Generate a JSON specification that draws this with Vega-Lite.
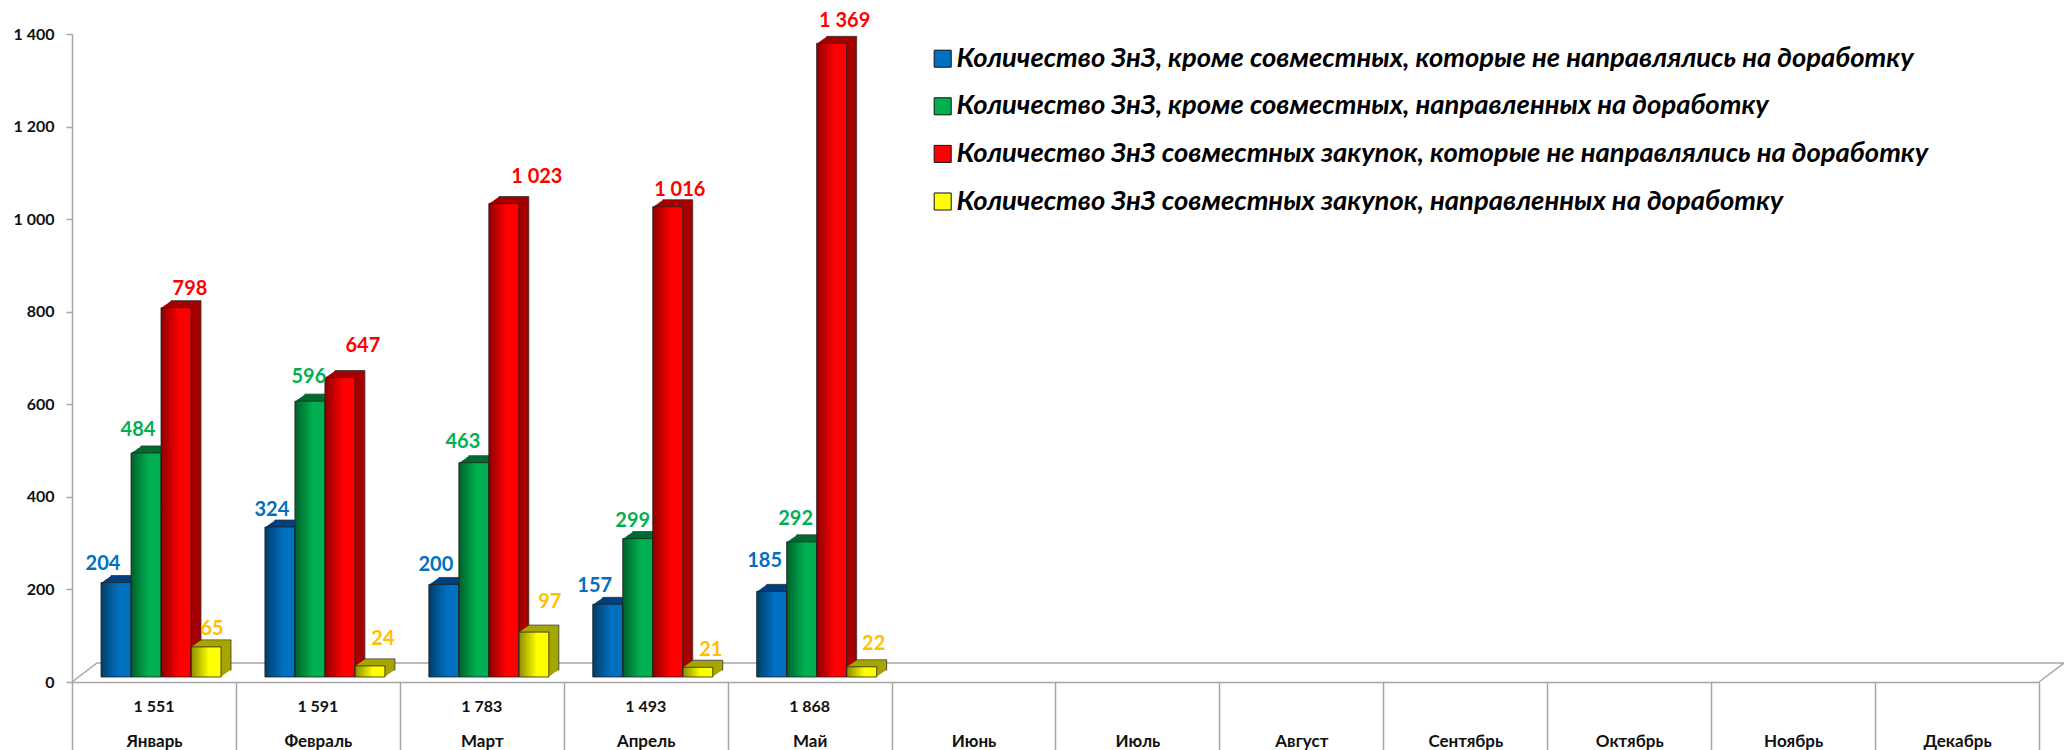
{"$schema":"https://vega.github.io/schema/vega-lite/v6.json","width":1967,"height":648,"autosize":"none","padding":{"left":72,"top":34,"right":25,"bottom":68},"background":"white",
"datasets":{
"bars":[
{"m":"Январь","s":"Количество ЗнЗ, кроме совместных, которые не направлялись на доработку","v":204},
{"m":"Январь","s":"Количество ЗнЗ, кроме совместных, направленных на доработку","v":484},
{"m":"Январь","s":"Количество ЗнЗ совместных закупок, которые не направлялись на доработку","v":798},
{"m":"Январь","s":"Количество ЗнЗ совместных закупок, направленных на доработку","v":65},
{"m":"Февраль","s":"Количество ЗнЗ, кроме совместных, которые не направлялись на доработку","v":324},
{"m":"Февраль","s":"Количество ЗнЗ, кроме совместных, направленных на доработку","v":596},
{"m":"Февраль","s":"Количество ЗнЗ совместных закупок, которые не направлялись на доработку","v":647},
{"m":"Февраль","s":"Количество ЗнЗ совместных закупок, направленных на доработку","v":24},
{"m":"Март","s":"Количество ЗнЗ, кроме совместных, которые не направлялись на доработку","v":200},
{"m":"Март","s":"Количество ЗнЗ, кроме совместных, направленных на доработку","v":463},
{"m":"Март","s":"Количество ЗнЗ совместных закупок, которые не направлялись на доработку","v":1023},
{"m":"Март","s":"Количество ЗнЗ совместных закупок, направленных на доработку","v":97},
{"m":"Апрель","s":"Количество ЗнЗ, кроме совместных, которые не направлялись на доработку","v":157},
{"m":"Апрель","s":"Количество ЗнЗ, кроме совместных, направленных на доработку","v":299},
{"m":"Апрель","s":"Количество ЗнЗ совместных закупок, которые не направлялись на доработку","v":1016},
{"m":"Апрель","s":"Количество ЗнЗ совместных закупок, направленных на доработку","v":21},
{"m":"Май","s":"Количество ЗнЗ, кроме совместных, которые не направлялись на доработку","v":185},
{"m":"Май","s":"Количество ЗнЗ, кроме совместных, направленных на доработку","v":292},
{"m":"Май","s":"Количество ЗнЗ совместных закупок, которые не направлялись на доработку","v":1369},
{"m":"Май","s":"Количество ЗнЗ совместных закупок, направленных на доработку","v":22}
],
"months":[
{"m":"Январь","total":1551,"v":0},{"m":"Февраль","total":1591,"v":0},{"m":"Март","total":1783,"v":0},{"m":"Апрель","total":1493,"v":0},{"m":"Май","total":1868,"v":0}
],
"floor":[{"i":0,"d":0,"v":0},{"i":1,"d":25,"v":41},{"i":2,"d":1992,"v":41},{"i":3,"d":1967,"v":0}]
},
"encoding":{"y":{"field":"v","type":"quantitative","scale":{"domain":[0,1400],"nice":false,"zero":true},
"axis":{"title":null,"values":[0,200,400,600,800,1000,1200,1400],"grid":false,"domainColor":"#A6A6A6","domainWidth":1.5,"tickColor":"#A6A6A6","tickWidth":1.5,"tickSize":6,"labelPadding":12,"labelFont":"Lato","labelFontWeight":"bold","labelFontSize":16,"labelColor":"#111111","labelExpr":"replace(format(datum.value,',d'),',',' ')"}}},
"layer":[
{"data":{"name":"floor"},"mark":{"type":"line","color":"#A6A6A6","strokeWidth":1.5,"clip":false},
"encoding":{"x":{"field":"d","type":"quantitative","scale":{"domain":[0,1967],"nice":false,"zero":false},"axis":null},"order":{"field":"i"}}},
{"data":{"name":"months"},"transform":[{"calculate":"replace(format(datum.total,',d'),',',' ')","as":"t"}],"mark":{"type":"text","dy":25,"font":"Lato","fontWeight":"bold","fontSize":16,"color":"#111111"},"encoding":{"x":{"field":"m","type":"nominal","axis":null,"scale":{"domain":["Январь","Февраль","Март","Апрель","Май","Июнь","Июль","Август","Сентябрь","Октябрь","Ноябрь","Декабрь"],"paddingInner":0,"paddingOuter":0}},"text":{"field":"t"}}},
{"data":{"name":"bars"},
"encoding":{
"x":{"field":"m","type":"nominal","scale":{"domain":["Январь","Февраль","Март","Апрель","Май","Июнь","Июль","Август","Сентябрь","Октябрь","Ноябрь","Декабрь"],"paddingInner":0,"paddingOuter":0},
"axis":{"title":null,"orient":"bottom","tickBand":"extent","tickSize":68,"tickColor":"#A6A6A6","tickWidth":1.5,"domainColor":"#A6A6A6","domainWidth":1.5,"labelAngle":0,"labelPadding":-9,"labelBaseline":"middle","labelFont":"Lato","labelFontWeight":"bold","labelFontSize":17,"labelColor":"#111111","labelOverlap":false,"labelBound":false}},
"xOffset":{"field":"o","type":"quantitative","scale":{"domain":[0,200],"range":[0,200],"nice":false,"zero":false}}
},
"transform":[{"calculate":"replace(format(datum.v,',d'),',',' ')","as":"label"},{"calculate":"((test(/^Количество ЗнЗ,/,datum.s)?0:2)+(test(/направленных/,datum.s)?1:0))*30+37","as":"o"}],
"layer":[
{"transform":[{"calculate":"datum.o+17","as":"p10"}],"mark":{"type":"bar","width":30,"yOffset":-12,"stroke":"#333333","strokeWidth":0.8},"encoding":{"xOffset":{"field":"p10","type":"quantitative","scale":{"domain":[0,200],"range":[0,200],"nice":false,"zero":false}},"fill":{"field":"s","type":"nominal","legend":null,"scale":{"domain":["Количество ЗнЗ совместных закупок, направленных на доработку","Количество ЗнЗ совместных закупок, которые не направлялись на доработку","Количество ЗнЗ, кроме совместных, направленных на доработку","Количество ЗнЗ, кроме совместных, которые не направлялись на доработку"],"range":["#A6A600","#A50000","#006B30","#00407F"]}}}},
{"transform":[{"calculate":"datum.o+16","as":"p9"}],"mark":{"type":"bar","width":30,"yOffset":-11.3},"encoding":{"xOffset":{"field":"p9","type":"quantitative","scale":{"domain":[0,200],"range":[0,200],"nice":false,"zero":false}},"fill":{"field":"s","type":"nominal","legend":null}}},
{"transform":[{"calculate":"datum.o+15","as":"p8"}],"mark":{"type":"bar","width":30,"yOffset":-10.6},"encoding":{"xOffset":{"field":"p8","type":"quantitative","scale":{"domain":[0,200],"range":[0,200],"nice":false,"zero":false}},"fill":{"field":"s","type":"nominal","legend":null}}},
{"transform":[{"calculate":"datum.o+14","as":"p7"}],"mark":{"type":"bar","width":30,"yOffset":-9.9},"encoding":{"xOffset":{"field":"p7","type":"quantitative","scale":{"domain":[0,200],"range":[0,200],"nice":false,"zero":false}},"fill":{"field":"s","type":"nominal","legend":null}}},
{"transform":[{"calculate":"datum.o+13","as":"p6"}],"mark":{"type":"bar","width":30,"yOffset":-9.2},"encoding":{"xOffset":{"field":"p6","type":"quantitative","scale":{"domain":[0,200],"range":[0,200],"nice":false,"zero":false}},"fill":{"field":"s","type":"nominal","legend":null}}},
{"transform":[{"calculate":"datum.o+12","as":"p5"}],"mark":{"type":"bar","width":30,"yOffset":-8.5},"encoding":{"xOffset":{"field":"p5","type":"quantitative","scale":{"domain":[0,200],"range":[0,200],"nice":false,"zero":false}},"fill":{"field":"s","type":"nominal","legend":null}}},
{"transform":[{"calculate":"datum.o+11","as":"p4"}],"mark":{"type":"bar","width":30,"yOffset":-7.8},"encoding":{"xOffset":{"field":"p4","type":"quantitative","scale":{"domain":[0,200],"range":[0,200],"nice":false,"zero":false}},"fill":{"field":"s","type":"nominal","legend":null}}},
{"transform":[{"calculate":"datum.o+10","as":"p3"}],"mark":{"type":"bar","width":30,"yOffset":-7.1},"encoding":{"xOffset":{"field":"p3","type":"quantitative","scale":{"domain":[0,200],"range":[0,200],"nice":false,"zero":false}},"fill":{"field":"s","type":"nominal","legend":null}}},
{"transform":[{"calculate":"datum.o+9","as":"p2"}],"mark":{"type":"bar","width":30,"yOffset":-6.4},"encoding":{"xOffset":{"field":"p2","type":"quantitative","scale":{"domain":[0,200],"range":[0,200],"nice":false,"zero":false}},"fill":{"field":"s","type":"nominal","legend":null}}},
{"transform":[{"calculate":"datum.o+8","as":"p1"}],"mark":{"type":"bar","width":30,"yOffset":-5.7},"encoding":{"xOffset":{"field":"p1","type":"quantitative","scale":{"domain":[0,200],"range":[0,200],"nice":false,"zero":false}},"fill":{"field":"s","type":"nominal","legend":null}}},
{"transform":[{"calculate":"datum.o+7","as":"p0"}],"mark":{"type":"bar","width":30,"yOffset":-5},"encoding":{"xOffset":{"field":"p0","type":"quantitative","scale":{"domain":[0,200],"range":[0,200],"nice":false,"zero":false}},"color":{"field":"s","type":"nominal","title":null,"scale":{"domain":["Количество ЗнЗ, кроме совместных, которые не направлялись на доработку","Количество ЗнЗ, кроме совместных, направленных на доработку","Количество ЗнЗ совместных закупок, которые не направлялись на доработку","Количество ЗнЗ совместных закупок, направленных на доработку"],"range":["#0070C0","#00B050","#FF0000","#FFFF00"]},"legend":{"orient":"none","legendX":857,"legendY":11,"symbolType":"square","symbolSize":290,"symbolStrokeColor":"#111111","symbolStrokeWidth":1,"labelFont":"Lato","labelFontWeight":"bold","labelFontStyle":"italic","labelFontSize":27.4,"labelColor":"#000000","labelLimit":1100,"labelOffset":0,"rowPadding":18.6}}}},
{"transform":[{"calculate":"datum.o+7","as":"p0"}],"mark":{"type":"bar","width":30,"yOffset":-5,"stroke":"#222222","strokeWidth":0.8,"color":{"gradient":"linear","x1":0,"y1":0,"x2":1,"y2":0,"stops":[{"offset":0,"color":"rgba(0,0,0,0.45)"},{"offset":0.6,"color":"rgba(0,0,0,0)"}]}},"encoding":{"xOffset":{"field":"p0","type":"quantitative","scale":{"domain":[0,200],"range":[0,200],"nice":false,"zero":false}}}},
{"transform":[{"filter":"datum.v==204"}],"mark":{"type":"text","dx":-6,"dy":-24,"color":"#0070C0","font":"Lato","fontWeight":"bold","fontSize":20},"encoding":{"text":{"field":"label"}}},
{"transform":[{"filter":"datum.v==324"}],"mark":{"type":"text","dx":-1,"dy":-22,"color":"#0070C0","font":"Lato","fontWeight":"bold","fontSize":20},"encoding":{"text":{"field":"label"}}},
{"transform":[{"filter":"datum.v==200"}],"mark":{"type":"text","dx":-1,"dy":-24,"color":"#0070C0","font":"Lato","fontWeight":"bold","fontSize":20},"encoding":{"text":{"field":"label"}}},
{"transform":[{"filter":"datum.v==157"}],"mark":{"type":"text","dx":-6,"dy":-23,"color":"#0070C0","font":"Lato","fontWeight":"bold","fontSize":20},"encoding":{"text":{"field":"label"}}},
{"transform":[{"filter":"datum.v==185"}],"mark":{"type":"text","dx":0,"dy":-35,"color":"#0070C0","font":"Lato","fontWeight":"bold","fontSize":20},"encoding":{"text":{"field":"label"}}},
{"transform":[{"filter":"datum.v==484"}],"mark":{"type":"text","dx":-1,"dy":-28,"color":"#00B050","font":"Lato","fontWeight":"bold","fontSize":20},"encoding":{"text":{"field":"label"}}},
{"transform":[{"filter":"datum.v==596"}],"mark":{"type":"text","dx":6,"dy":-29,"color":"#00B050","font":"Lato","fontWeight":"bold","fontSize":20},"encoding":{"text":{"field":"label"}}},
{"transform":[{"filter":"datum.v==463"}],"mark":{"type":"text","dx":-4,"dy":-26,"color":"#00B050","font":"Lato","fontWeight":"bold","fontSize":20},"encoding":{"text":{"field":"label"}}},
{"transform":[{"filter":"datum.v==299"}],"mark":{"type":"text","dx":2,"dy":-23,"color":"#00B050","font":"Lato","fontWeight":"bold","fontSize":20},"encoding":{"text":{"field":"label"}}},
{"transform":[{"filter":"datum.v==292"}],"mark":{"type":"text","dx":1,"dy":-28,"color":"#00B050","font":"Lato","fontWeight":"bold","fontSize":20},"encoding":{"text":{"field":"label"}}},
{"transform":[{"filter":"datum.v==798"}],"mark":{"type":"text","dx":21,"dy":-24,"color":"#FF0000","font":"Lato","fontWeight":"bold","fontSize":20},"encoding":{"text":{"field":"label"}}},
{"transform":[{"filter":"datum.v==647"}],"mark":{"type":"text","dx":30,"dy":-37,"color":"#FF0000","font":"Lato","fontWeight":"bold","fontSize":20},"encoding":{"text":{"field":"label"}}},
{"transform":[{"filter":"datum.v==1023"}],"mark":{"type":"text","dx":40,"dy":-31,"color":"#FF0000","font":"Lato","fontWeight":"bold","fontSize":20},"encoding":{"text":{"field":"label"}}},
{"transform":[{"filter":"datum.v==1016"}],"mark":{"type":"text","dx":19,"dy":-22,"color":"#FF0000","font":"Lato","fontWeight":"bold","fontSize":20},"encoding":{"text":{"field":"label"}}},
{"transform":[{"filter":"datum.v==1369"}],"mark":{"type":"text","dx":20,"dy":-27,"color":"#FF0000","font":"Lato","fontWeight":"bold","fontSize":20},"encoding":{"text":{"field":"label"}}},
{"transform":[{"filter":"datum.v==65"}],"mark":{"type":"text","dx":13,"dy":-23,"color":"#FFC000","font":"Lato","fontWeight":"bold","fontSize":20},"encoding":{"text":{"field":"label"}}},
{"transform":[{"filter":"datum.v==24"}],"mark":{"type":"text","dx":20,"dy":-32,"color":"#FFC000","font":"Lato","fontWeight":"bold","fontSize":20},"encoding":{"text":{"field":"label"}}},
{"transform":[{"filter":"datum.v==97"}],"mark":{"type":"text","dx":23,"dy":-35,"color":"#FFC000","font":"Lato","fontWeight":"bold","fontSize":20},"encoding":{"text":{"field":"label"}}},
{"transform":[{"filter":"datum.v==21"}],"mark":{"type":"text","dx":20,"dy":-22,"color":"#FFC000","font":"Lato","fontWeight":"bold","fontSize":20},"encoding":{"text":{"field":"label"}}},
{"transform":[{"filter":"datum.v==22"}],"mark":{"type":"text","dx":19,"dy":-28,"color":"#FFC000","font":"Lato","fontWeight":"bold","fontSize":20},"encoding":{"text":{"field":"label"}}}
]}
],
"resolve":{"scale":{"x":"independent"}},
"config":{"view":{"stroke":null}}}
